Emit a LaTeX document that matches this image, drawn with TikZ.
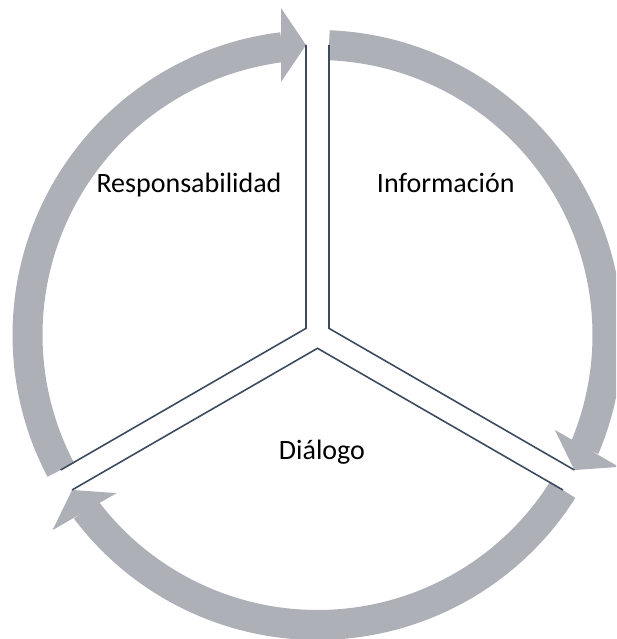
\documentclass[tikz,border=0pt]{standalone}
\usepackage{fontspec}
\setmainfont{Carlito}
\usetikzlibrary{calc}

\definecolor{arrowgray}{HTML}{ADB0B7}
\definecolor{slateline}{HTML}{3D4B5E}

\tikzstyle{band}=[draw=arrowgray, line width=30pt]
\tikzstyle{head}=[fill=arrowgray]
\tikzstyle{divider}=[draw=slateline, line width=1.6pt, line join=miter]
\tikzstyle{sector}=[font=\fontsize{28}{34}\selectfont, anchor=base, inner sep=0pt]

\begin{document}
\begin{tikzpicture}
\useasboundingbox (-317.5pt,-304pt) rectangle (298.5pt,335pt);
\clip (-317.5pt,-304pt) rectangle (298.5pt,335pt);

% the three arrows round the circle
\foreach \a in {90,-30,-150}{
  \draw[band] (\a-2.27:290pt) arc[start angle=\a-2.27, end angle=\a-113, radius=290pt];
  \coordinate (tip) at ($(\a-120:290pt)+(\a-30:11.5pt)$);
  \fill[head] (tip) -- ($(tip)+(\a-30:25pt)+(\a-120:37pt)$) -- ($(tip)+(\a-30:25pt)+(\a+60:37pt)$) -- cycle;
}

% ends of the dividing lines
\coordinate (tl) at ($(90:290pt)+(180:11.5pt)$);
\coordinate (tr) at ($(90:290pt)+(0:11.5pt)$);
\coordinate (lrup) at ($(330:290pt)+(60:11.5pt)$);
\coordinate (lrlo) at ($(330:290pt)+(240:11.5pt)$);
\coordinate (llup) at ($(210:290pt)+(120:11.5pt)$);
\coordinate (lllo) at ($(210:290pt)+(300:11.5pt)$);
\coordinate (jl) at (150:13.28pt);
\coordinate (jr) at (30:13.28pt);
\coordinate (jb) at (270:13.28pt);

\draw[divider] (tl) -- (jl) -- (llup);
\draw[divider] (tr) -- (jr) -- (lrup);
\draw[divider] (lllo) -- (jb) -- (lrlo);

\node[sector] (resp) at (-128.5pt,142pt) {Responsabilidad};
\node[sector] (info) at (128.3pt,142pt) {Información};
\node[sector] (dial) at (4.5pt,-124.3pt) {Diálogo};
\end{tikzpicture}
\end{document}
